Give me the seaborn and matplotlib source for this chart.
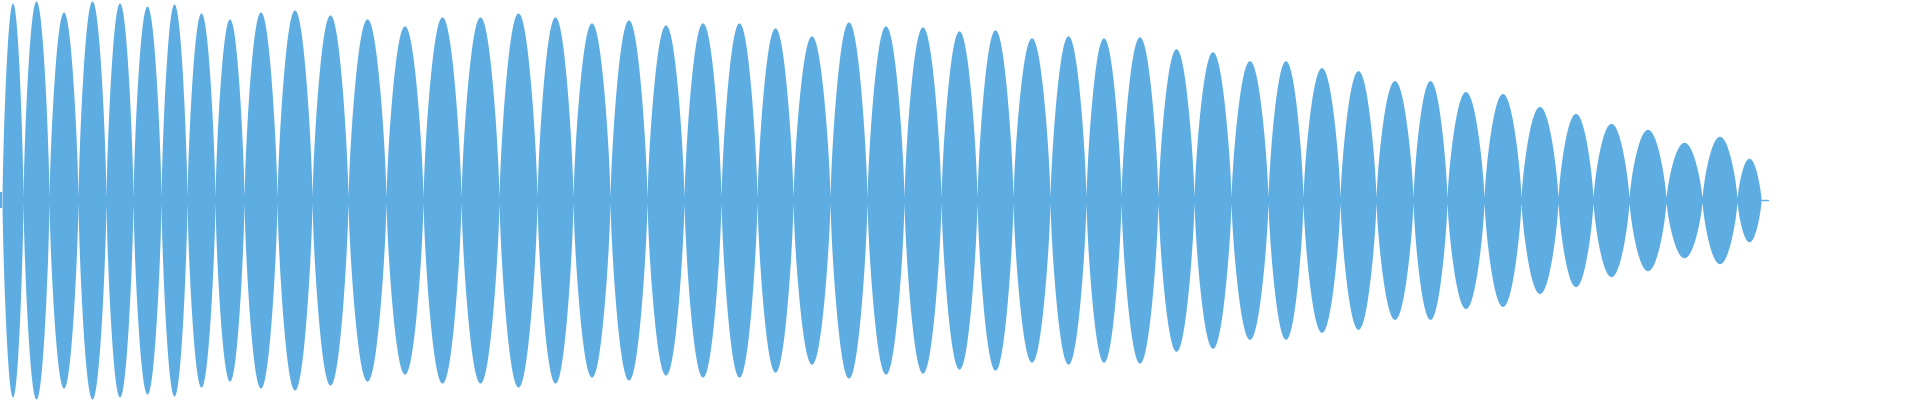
import numpy as np
import matplotlib
matplotlib.use("Agg")
import matplotlib.pyplot as plt
import seaborn as sns

# zero crossings of the waveform envelope (sample position units)
crossings = [2, 23, 49, 78, 106, 133, 161, 187, 215, 244, 277, 312, 348, 386, 423, 461,
             499, 537, 573, 610, 647, 684, 721, 757, 793, 830, 867, 904, 941, 977, 1013,
             1050, 1086, 1121, 1158, 1194, 1231, 1268, 1303, 1340, 1376, 1413, 1447, 1484,
             1521, 1558, 1593, 1629, 1666, 1702, 1737, 1761]
# peak amplitude of each lobe
amplitudes = [198, 200, 189, 200, 198, 195, 197, 188, 182, 189, 191, 186, 182, 175, 184,
              184, 188, 184, 178, 181, 176, 178, 178, 173, 165, 179, 175, 174, 170, 171,
              163, 165, 163, 164, 152, 149, 140, 140, 133, 130, 120, 120, 109, 107, 94,
              87, 77, 71, 58, 64, 42]
tail_end = 1768

sns.set_style("white")
fig = plt.figure(figsize=(19.2, 4.0), dpi=100)
ax = fig.add_axes([0, 0, 1, 1])

xs, ys = [], []
for a, b, amp in zip(crossings[:-1], crossings[1:], amplitudes):
    t = np.linspace(0, 1, 80)
    xs.append(a + (b - a) * t)
    ys.append(amp * np.sin(np.pi * t) ** 0.7)
x = np.concatenate(xs); y = np.maximum(np.concatenate(ys), 3)
color = "#5DADE2"
ax.fill_between(x, -y, y, color=color, linewidth=0)
ax.fill_between([0, 2], [-8, -8], [8, 8], color=color, linewidth=0)
sns.lineplot(x=[crossings[-1], tail_end], y=[0, 0], ax=ax, color=color, linewidth=1)
ax.set_xlim(0, 1920)
ax.set_ylim(-201, 201)
ax.axis("off")
fig.savefig("out.png", dpi=100)
